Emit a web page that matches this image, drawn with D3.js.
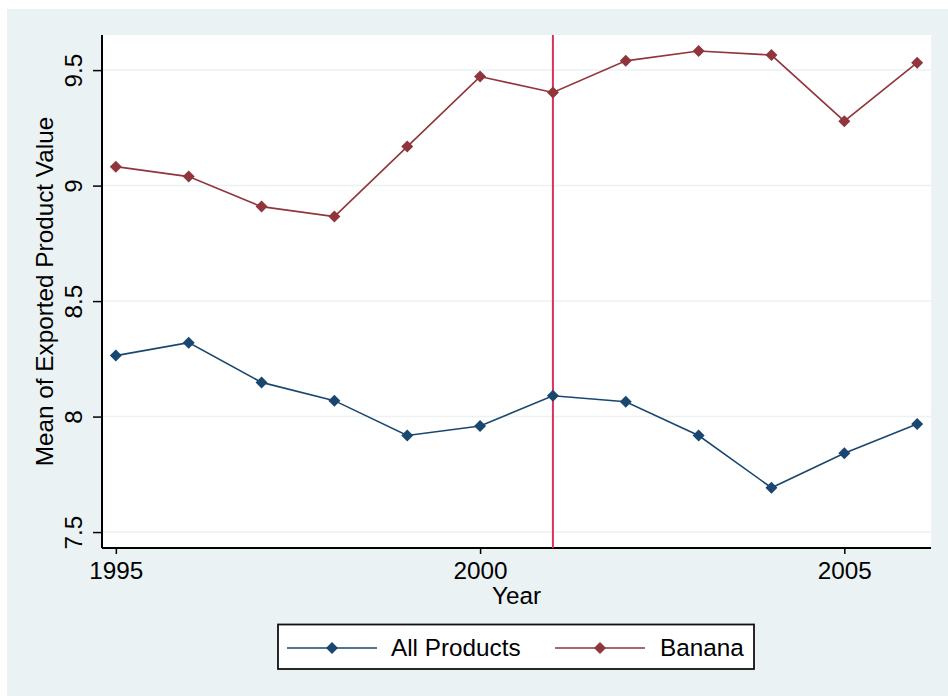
<!DOCTYPE html>
<html>
<head>
<meta charset="utf-8">
<script src="https://cdn.jsdelivr.net/npm/d3@7"></script>
<style>
  html, body { margin: 0; padding: 0; background: #ffffff; }
  svg { display: block; }
  text { font-family: "Liberation Sans", Arial, sans-serif; fill: #000; }
</style>
</head>
<body>
<script>
// Mean of exported product value by year
const years = [1995, 1996, 1997, 1998, 1999, 2000, 2001, 2002, 2003, 2004, 2005, 2006];
const allProducts = [8.264, 8.320, 8.148, 8.069, 7.918, 7.959, 8.090, 8.064, 7.918, 7.692, 7.841, 7.968];
const banana = [9.082, 9.039, 8.909, 8.866, 9.169, 9.472, 9.403, 9.540, 9.583, 9.565, 9.279, 9.532];
const seriesNames = ["All Products", "Banana"];
const xTicks = [1995, 2000, 2005];
const yTicks = [7.5, 8, 8.5, 9, 9.5];
const markerYear = 2001;

const W = 948, H = 696;
const plot = { left: 102, right: 931, top: 35, bottom: 548 };
const colors = ["#1a476f", "#90353b"];
const bg = "#eaf2f3";
const fs = 24.3;

const svg = d3.select("body").append("svg").attr("width", W).attr("height", H);

svg.append("rect").attr("x", 7).attr("y", 9).attr("width", W - 7).attr("height", H - 9).attr("fill", bg);
svg.append("rect").attr("x", plot.left).attr("y", plot.top)
  .attr("width", plot.right - plot.left).attr("height", plot.bottom - plot.top).attr("fill", "#fff");

const x = d3.scaleLinear().domain([1994.81, 2006.19]).range([plot.left, plot.right]);
const y = d3.scaleLinear().domain([7.431, 9.652]).range([plot.bottom, plot.top]);

// Horizontal grid lines
svg.append("g").selectAll("line").data(yTicks).join("line")
  .attr("x1", plot.left).attr("x2", plot.right)
  .attr("y1", d => y(d)).attr("y2", d => y(d))
  .attr("stroke", bg).attr("stroke-width", 1.5);

// Axes
const yAxis = svg.append("g").attr("transform", `translate(${plot.left},0)`)
  .call(d3.axisLeft(y).tickValues(yTicks).tickSize(9).tickPadding(9).tickFormat(d3.format("")));
yAxis.select(".domain").attr("d", `M0,${plot.top}V${plot.bottom}`).attr("stroke", "#000").attr("stroke-width", 2);
yAxis.selectAll(".tick line").attr("stroke", "#000").attr("stroke-width", 1.5);
yAxis.selectAll(".tick text")
  .attr("font-size", fs)
  .attr("text-anchor", "middle")
  .attr("x", null).attr("dy", null)
  .attr("transform", "translate(-20,0) rotate(-90)");

const xAxis = svg.append("g").attr("transform", `translate(0,${plot.bottom})`)
  .call(d3.axisBottom(x).tickValues(xTicks).tickSize(6).tickPadding(8).tickFormat(d3.format("d")));
xAxis.select(".domain").attr("d", `M${plot.left},0H${plot.right}`).attr("stroke", "#000").attr("stroke-width", 2);
xAxis.selectAll(".tick line").attr("stroke", "#000").attr("stroke-width", 1.5);
xAxis.selectAll(".tick text").attr("font-size", fs).attr("dy", "0.71em");

// Axis titles
svg.append("text").attr("x", (plot.left + plot.right) / 2).attr("y", 604)
  .attr("text-anchor", "middle").attr("font-size", fs).text("Year");
svg.append("text").attr("transform", `translate(53,${(plot.top + plot.bottom) / 2}) rotate(-90)`)
  .attr("text-anchor", "middle").attr("font-size", fs).text("Mean of Exported Product Value");

// Reference line
svg.append("line")
  .attr("x1", x(markerYear)).attr("x2", x(markerYear))
  .attr("y1", plot.top).attr("y2", plot.bottom)
  .attr("stroke", "#d8345f").attr("stroke-width", 2);

const diamond = r => `M0,${-r}L${r},0L0,${r}L${-r},0Z`;
const line = d3.line().x(d => x(d[0])).y(d => y(d[1]));

[allProducts, banana].forEach((vals, i) => {
  const pts = years.map((yr, j) => [yr, vals[j]]);
  svg.append("path").datum(pts).attr("d", line)
    .attr("fill", "none").attr("stroke", colors[i]).attr("stroke-width", 1.6);
  svg.append("g").selectAll("path").data(pts).join("path")
    .attr("transform", d => `translate(${x(d[0])},${y(d[1])})`)
    .attr("d", diamond(6)).attr("fill", colors[i]);
});

// Legend
const lg = svg.append("g");
lg.append("rect").attr("x", 278).attr("y", 624.5).attr("width", 476).attr("height", 44.5)
  .attr("fill", "#fff").attr("stroke", "#111").attr("stroke-width", 1.8);
const legendItems = [
  { x0: 287, x1: 377, tx: 391 },
  { x0: 555, x1: 645, tx: 660 }
];
legendItems.forEach((it, i) => {
  lg.append("line").attr("x1", it.x0).attr("x2", it.x1).attr("y1", 648).attr("y2", 648)
    .attr("stroke", colors[i]).attr("stroke-width", 1.6);
  lg.append("path").attr("transform", `translate(${(it.x0 + it.x1) / 2},648)`)
    .attr("d", diamond(6)).attr("fill", colors[i]);
  lg.append("text").attr("x", it.tx).attr("y", 656).attr("font-size", fs).text(seriesNames[i]);
});
</script>
</body>
</html>
